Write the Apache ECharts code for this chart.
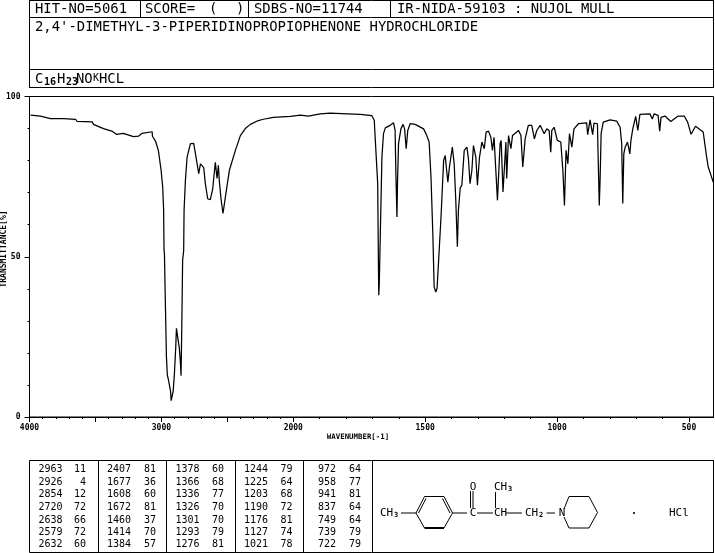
<!DOCTYPE html>
<html><head><meta charset="utf-8">
<style>html,body{margin:0;padding:0;background:#fff}#c{width:715px;height:553px}</style>
<script src="https://cdn.jsdelivr.net/npm/echarts@6/dist/echarts.min.js"></script>
</head><body><div id="c"></div>
<script>
const wavenumbers = [3992,3917,3841,3742,3651,3639,3525,3515,3439,3371,3341,3288,3212,3174,3146,3070,3068,3045,3023,3002,2990,2983,2980,2977,2970,2962,2955,2947,2937,2930,2926,2917,2911,2901,2891,2886,2876,2873,2864,2856,2851,2846,2839,2831,2828,2818,2805,2780,2755,2742,2717,2704,2679,2667,2649,2629,2611,2591,2578,2568,2561,2548,2533,2515,2485,2439,2401,2364,2326,2265,2227,2151,2023,1973,1943,1898,1860,1795,1746,1702,1693,1689,1680,1677,1676,1674,1670,1664,1658,1651,1633,1620,1614,1611,1607,1605,1601,1592,1584,1578,1572,1566,1557,1538,1506,1494,1485,1478,1471,1466,1460,1455,1449,1440,1430,1424,1420,1414,1408,1397,1390,1384,1378,1374,1367,1361,1352,1342,1336,1330,1323,1317,1308,1302,1294,1285,1276,1269,1260,1251,1245,1239,1233,1226,1216,1212,1205,1194,1191,1184,1175,1169,1146,1137,1130,1121,1109,1096,1086,1077,1064,1049,1039,1030,1024,1020,1011,999,986,978,972,966,959,953,944,936,919,888,884,875,865,860,847,844,840,837,833,825,799,774,761,755,751,747,742,733,730,724,720,713,702,694,686,648,639,632,617,611,606,591,569,541,518,505,492,475,446,433,427,408];
const transmittance = [94.2,93.9,93.1,93.1,92.9,92.2,92.1,91.3,90.0,89.1,88.2,88.5,87.5,87.6,88.5,89.0,87.6,86.1,83.2,76.9,71.7,64.5,52.0,51.1,35.9,19.0,13.1,11.7,11.7,7.9,5.1,4.8,7.9,13.7,21.9,27.7,27.9,24.0,21.5,17.2,12.9,26.2,48.9,52.0,64.5,73.8,81.1,85.3,85.4,82.2,75.9,79.0,77.8,72.9,68.1,67.8,71.2,79.5,74.4,78.5,73.8,68.1,63.5,68.6,76.9,83.2,87.8,90.0,91.3,92.5,92.9,93.5,93.8,94.2,93.9,94.6,94.8,94.6,94.4,94.0,92.5,86.3,72.8,45.8,38.0,41.7,57.3,81.1,88.4,90.2,91.0,91.8,89.4,75.9,62.4,72.9,85.3,89.9,91.3,89.9,83.7,89.4,91.5,91.3,89.9,87.8,85.8,74.9,57.2,40.6,39.0,40.1,48.9,62.4,80.1,81.6,78.0,73.3,78.0,84.2,79.0,67.6,53.1,64.5,71.6,72.3,83.2,84.2,80.6,72.8,76.9,84.7,81.1,72.3,81.1,85.8,83.7,88.9,89.2,87.3,83.2,87.3,86.8,67.6,85.3,86.3,70.2,85.8,74.4,87.8,83.7,87.8,89.4,87.8,78.0,86.8,91.0,91.0,86.8,89.4,91.0,88.4,89.9,89.4,82.6,89.4,90.4,86.3,85.8,76.9,66.0,83.2,79.0,88.4,84.2,89.9,91.5,91.8,88.1,92.7,88.1,91.7,91.5,80.1,66.0,73.8,88.4,92.0,92.7,92.3,90.4,85.3,66.6,82.1,84.2,85.8,85.8,82.1,86.3,89.9,93.8,89.4,94.4,94.6,93.0,94.6,94.1,89.2,93.5,93.9,92.2,93.9,93.9,92.0,88.2,90.7,88.9,81.1,78.0,73.3];
const xTickLabels = [4000,3000,2000,1500,1000,500];
const xLongTicks = [4000,3500,3000,2500,2000,1500,1000,500];
const xShortTicks = [3900,3800,3700,3600,3400,3300,3200,3100,2900,2800,2700,2600,2400,2300,2200,2100,1900,1800,1700,1600,1400,1300,1200,1100,900,800,700,600,400];
const yTickLabels = [0,50,100];
const yShortTicks = [10,20,30,40,60,70,80,90];
const headerHit = 'HIT-NO=5061';
const headerSdbs = 'SDBS-NO=11744';
const headerSource = 'IR-NIDA-59103 : NUJOL MULL';
const compoundName = "2,4'-DIMETHYL-3-PIPERIDINOPROPIOPHENONE HYDROCHLORIDE";
const peakColumns = [
  [[2963,11],[2926,4],[2854,12],[2720,72],[2638,66],[2579,72],[2632,60]],
  [[2407,81],[1677,36],[1608,60],[1672,81],[1460,37],[1414,70],[1384,57]],
  [[1378,60],[1366,68],[1336,77],[1326,70],[1301,70],[1293,79],[1276,81]],
  [[1244,79],[1225,64],[1203,68],[1190,72],[1176,81],[1127,74],[1021,78]],
  [[972,64],[958,77],[941,81],[837,64],[749,64],[739,79],[722,79]]
];

// The instrument's wavenumber scale doubles at 2000 cm-1.
const toU = w => w >= 2000 ? (4000 - w) / 2 : 1000 + (2000 - w);
const fromU = u => u <= 1000 ? 4000 - 2 * u : 2000 - (u - 1000);
const line = (x1,y1,x2,y2,w) => ({type:'line',silent:true,shape:{x1,y1,x2,y2},style:{stroke:'#000',lineWidth:w||1}});
const MONO = '"DejaVu Sans Mono", monospace';
const text = (t,x,y,size,align,bold) => ({type:'text',silent:true,x,y,style:{text:t,fill:'#000',font:(bold?'bold ':'')+size+'px '+MONO,textAlign:align||'left',textVerticalAlign:'middle'}});

const g = [];
// header frame
g.push(line(29.5,0.5,713.5,0.5), line(29.5,17.5,713.5,17.5), line(29.5,69.5,713.5,69.5), line(29.5,87.5,713.5,87.5));
g.push(line(29.5,0,29.5,88), line(713.5,0,713.5,88), line(140.5,0,140.5,18), line(248.5,0,248.5,18), line(390.5,0,390.5,18));
g.push(text(headerHit,35,9,13.9), text('SCORE=',145,9,13.9), text('(',209,9,13.9), text(')',236,9,13.9), text(headerSdbs,254,9,13.9), text(headerSource,397,9,13.9));
g.push(text(compoundName,35,27,13.9));
g.push(text('C',35,79,13.9), text('16',44,82,10,'left',true), text('H',57,79,13.9), text('23',66,82,10,'left',true), text('NO',76,79,13.9), text('K',93,78,10), text('HCL',99,79,13.9));
// axis titles
g.push(text('WAVENUMBER[-1]',358,437,7.4,'center',true));
const yt = text('TRANSMITTANCE[%]',4,249,8,'center',true); yt.rotation = Math.PI/2; g.push(yt);
// peak table
g.push(line(29.5,460.5,714,460.5), line(29.5,552.5,714,552.5), line(29.5,460.5,29.5,552.5));
[98.5,166.5,235.5,303.5,372.5,713.5].forEach(x=>g.push(line(x,460.5,x,552.5)));
const numRight=[62.5,131,199.5,268,336], valRight=[86,156,224,292.5,361], rows=[469,482,494,507,520,532,544];
peakColumns.forEach((col,c)=>col.forEach((p,r)=>{
  g.push(text(String(p[0]),numRight[c],rows[r],10,'right'), text(String(p[1]),valRight[c],rows[r],10,'right'));
}));
// structure
const S=11;
g.push(text('CH',380,513,S), text('3',394,515,7,'left',true), line(401,513,416,513));
g.push(line(416,513,424.5,496.5), line(424.5,496.5,444,496.5), line(444,496.5,452.5,513), line(452.5,513,444,528), line(444,528,424.5,528,2), line(424.5,528,416,513));
g.push(line(418.5,513,426,498.5), line(442.5,498.5,450,513));
g.push(line(452.5,513,467,513), text('C',473,513,S,'center'), line(470.5,491,470.5,508), line(473,491,473,508), text('O',473,487,S,'center'));
g.push(line(477,513,493,513), text('CH',494,513,S), line(495.5,492,495.5,508), text('CH',494,487,S), text('3',508,489,7,'left',true));
g.push(line(506,513,522,513), text('CH',525,513,S), text('2',539,515,7,'left',true), line(546.5,513,555,513), text('N',562,513,S,'center'));
g.push(line(564,509,569,496.5), line(569,496.5,589,496.5), line(589,496.5,597.5,512.5), line(597.5,512.5,589,528), line(589,528,569,528), line(569,528,564,517));
g.push(text('.',634,511,10,'center',true), text('HCl',669,513,S));

const tickStyle={color:'#000',width:1};
const xLab = {fontFamily:MONO,fontSize:8,fontWeight:'bold',color:'#000',margin:7,hideOverlap:false,showMinLabel:true,showMaxLabel:true};
const baseX = {type:'value',position:'bottom',min:0,max:2593,splitLine:{show:false},axisLine:{show:true,onZero:false,lineStyle:{color:'#000',width:1}}};
const baseY = {type:'value',position:'left',min:0,max:100,splitLine:{show:false},axisLine:{show:true,onZero:false,lineStyle:{color:'#000',width:1}}};

const chart = echarts.init(document.getElementById('c'),null,{renderer:'canvas'});
chart.setOption({
  animation:false, backgroundColor:'#fff',
  grid:{left:29.5,top:96.5,width:684,height:320.5,show:true,borderColor:'#000',borderWidth:1,backgroundColor:'transparent',containLabel:false},
  xAxis:[
    {...baseX,axisTick:{show:true,length:5,lineStyle:tickStyle,customValues:xLongTicks.map(toU)},
      axisLabel:{...xLab,customValues:xTickLabels.map(toU),formatter:v=>String(Math.round(fromU(v)))}},
    {...baseX,axisTick:{show:true,length:2,lineStyle:tickStyle,customValues:xShortTicks.map(toU).filter(u=>u<=2593)},axisLabel:{show:false}}
  ],
  yAxis:[
    {...baseY,axisTick:{show:true,length:5,lineStyle:tickStyle,customValues:yTickLabels},
      axisLabel:{customValues:yTickLabels,fontFamily:MONO,fontSize:8,fontWeight:'bold',color:'#000',margin:9,hideOverlap:false}},
    {...baseY,axisTick:{show:true,length:2,lineStyle:tickStyle,customValues:yShortTicks},axisLabel:{show:false}}
  ],
  series:[{type:'line',xAxisIndex:0,yAxisIndex:0,showSymbol:false,symbol:'none',silent:true,clip:true,
    lineStyle:{color:'#000',width:1.25},itemStyle:{color:'#000'},
    data:wavenumbers.map((w,i)=>[toU(w),transmittance[i]])}],
  graphic:{elements:g}
});
</script></body></html>
